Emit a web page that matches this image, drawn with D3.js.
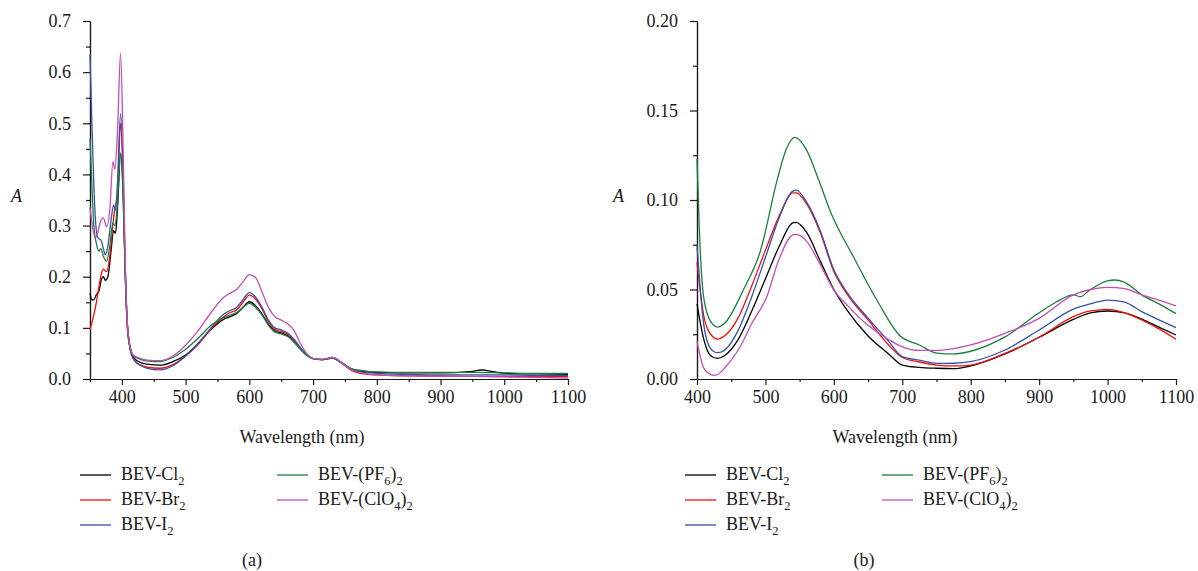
<!DOCTYPE html>
<meta charset="utf-8">
<style>
body { margin: 0; background: #fff; }
svg { font-family: "Liberation Serif", "Times New Roman", serif; }
.axis text { font-family: "Liberation Serif", "Times New Roman", serif; font-size: 18px; fill: #1a1a1a; }
.axis path, .axis line { stroke: #1a1a1a; stroke-width: 1.2; }
.lbl { font-size: 18px; fill: #1a1a1a; }
</style>
<svg width="1198" height="571"></svg>
<script src="https://d3js.org/d3.v7.min.js"></script>
<script>

// series names & colours (same for both panels)
var names = ["BEV-Cl_2", "BEV-Br_2", "BEV-I_2", "BEV-(PF_6)_2", "BEV-(ClO_4)_2"];
var colors = ["#000000", "#f01010", "#3352a8", "#1d7f3c", "#c24db6"];

// ---- panel (a): [wavelength nm, absorbance]
var aCl2 = [[350,0.168],[353,0.155],[356,0.155],[360,0.165],[364,0.172],[368,0.195],[371,0.2],[374,0.193],[378,0.2],[383,0.25],[387,0.29],[390,0.285],[393,0.33],[398,0.44],[402,0.36],[405,0.22],[408,0.12],[412,0.068],[416,0.048],[420,0.04],[430,0.032],[440,0.029],[460,0.027],[480,0.034],[500,0.047],[520,0.07],[540,0.097],[560,0.117],[570,0.122],[580,0.128],[590,0.14],[600,0.151],[610,0.143],[620,0.127],[630,0.107],[640,0.094],[650,0.09],[660,0.085],[670,0.074],[680,0.059],[690,0.047],[700,0.04],[715,0.038],[730,0.042],[745,0.032],[760,0.02],[780,0.015],[800,0.013],[850,0.012],[900,0.012],[950,0.015],[965,0.0176],[980,0.015],[1000,0.011],[1050,0.01],[1100,0.009]];
var aBr2 = [[350,0.096],[355,0.12],[360,0.15],[364,0.18],[368,0.207],[371,0.215],[376,0.21],[381,0.24],[385,0.29],[389,0.334],[393,0.36],[398,0.5],[402,0.38],[405,0.22],[408,0.11],[412,0.065],[416,0.045],[420,0.036],[430,0.027],[440,0.023],[460,0.021],[480,0.028],[500,0.045],[520,0.068],[540,0.098],[560,0.122],[570,0.13],[580,0.135],[590,0.15],[600,0.164],[610,0.156],[620,0.137],[630,0.112],[640,0.097],[650,0.093],[660,0.088],[670,0.076],[680,0.06],[690,0.047],[700,0.04],[715,0.038],[730,0.041],[745,0.031],[760,0.017],[780,0.01],[800,0.008],[850,0.006],[900,0.006],[950,0.005],[1000,0.005],[1050,0.005],[1100,0.005]];
var aI2 = [[350,0.634],[353,0.5],[356,0.38],[360,0.29],[363,0.275],[367,0.272],[371,0.255],[374,0.243],[378,0.26],[383,0.31],[387,0.34],[390,0.33],[393,0.38],[398,0.519],[402,0.4],[405,0.23],[408,0.12],[412,0.065],[416,0.045],[420,0.036],[430,0.026],[440,0.021],[460,0.018],[480,0.026],[500,0.045],[520,0.07],[540,0.1],[560,0.127],[570,0.134],[580,0.14],[590,0.155],[600,0.169],[610,0.16],[620,0.14],[630,0.115],[640,0.1],[650,0.096],[660,0.09],[670,0.078],[680,0.062],[690,0.048],[700,0.04],[715,0.038],[730,0.041],[745,0.031],[760,0.018],[780,0.013],[800,0.011],[850,0.009],[900,0.008],[950,0.008],[1000,0.008],[1050,0.007],[1100,0.007]];
var aPF6 = [[350,0.47],[353,0.38],[356,0.3],[360,0.265],[364,0.25],[367,0.255],[371,0.24],[376,0.23],[381,0.26],[386,0.305],[389,0.3],[393,0.34],[398,0.442],[402,0.36],[405,0.22],[408,0.12],[412,0.07],[416,0.05],[420,0.044],[430,0.038],[440,0.035],[460,0.034],[480,0.042],[500,0.058],[520,0.08],[540,0.105],[560,0.12],[570,0.125],[580,0.13],[590,0.14],[600,0.148],[610,0.14],[620,0.125],[630,0.105],[640,0.092],[650,0.088],[660,0.083],[670,0.072],[680,0.058],[690,0.046],[700,0.04],[715,0.038],[730,0.041],[745,0.032],[760,0.02],[780,0.016],[800,0.014],[850,0.013],[900,0.013],[950,0.013],[1000,0.012],[1050,0.011],[1100,0.011]];
var aClO4 = [[350,0.335],[355,0.29],[358,0.276],[362,0.285],[367,0.31],[371,0.315],[376,0.298],[381,0.33],[386,0.425],[389,0.41],[393,0.48],[398,0.637],[402,0.45],[405,0.25],[408,0.12],[412,0.07],[416,0.05],[420,0.045],[430,0.04],[440,0.037],[460,0.036],[480,0.045],[500,0.066],[520,0.095],[540,0.13],[560,0.16],[570,0.168],[580,0.175],[590,0.19],[600,0.204],[610,0.198],[620,0.17],[630,0.14],[640,0.122],[650,0.115],[660,0.108],[670,0.095],[680,0.07],[690,0.05],[700,0.04],[715,0.039],[730,0.042],[745,0.032],[760,0.018],[780,0.011],[800,0.008],[850,0.006],[900,0.005],[950,0.005],[1000,0.004],[1050,0.003],[1100,0.002]];

// ---- panel (b)
var bCl2 = [[400,0.042],[410,0.022],[420,0.013],[430,0.0115],[440,0.013],[460,0.022],[480,0.038],[500,0.056],[520,0.074],[540,0.0872],[545,0.0875],[560,0.082],[580,0.066],[600,0.05],[620,0.038],[650,0.024],[680,0.014],[700,0.0078],[725,0.0065],[750,0.006],[775,0.0058],[800,0.0073],[850,0.014],[900,0.0233],[950,0.0333],[975,0.037],[1000,0.038],[1025,0.037],[1050,0.0335],[1075,0.029],[1100,0.0246]];
var bBr2 = [[400,0.065],[410,0.035],[420,0.025],[430,0.0223],[440,0.024],[460,0.034],[480,0.052],[500,0.072],[520,0.091],[540,0.104],[545,0.104],[560,0.098],[580,0.082],[600,0.06],[620,0.047],[650,0.033],[680,0.019],[700,0.012],[725,0.0095],[750,0.0078],[775,0.0073],[800,0.0078],[850,0.0143],[900,0.0233],[950,0.0348],[975,0.038],[1000,0.0389],[1025,0.037],[1050,0.033],[1075,0.028],[1100,0.0222]];
var bI2 = [[400,0.075],[410,0.03],[420,0.017],[430,0.0147],[440,0.016],[460,0.027],[480,0.046],[500,0.068],[520,0.09],[540,0.105],[545,0.1055],[560,0.099],[580,0.083],[600,0.061],[620,0.048],[650,0.034],[680,0.021],[700,0.0125],[725,0.0105],[750,0.0087],[775,0.0088],[800,0.0097],[850,0.0162],[900,0.0274],[950,0.039],[975,0.042],[1000,0.0441],[1025,0.043],[1050,0.0376],[1075,0.033],[1100,0.0287]];
var bPF6 = [[400,0.123],[405,0.07],[410,0.045],[420,0.032],[430,0.029],[440,0.031],[468,0.05],[493,0.072],[517,0.111],[530,0.128],[543,0.135],[560,0.128],[578,0.111],[595,0.0935],[629,0.068],[663,0.044],[697,0.024],[725,0.019],[750,0.0145],[775,0.014],[800,0.0155],[850,0.0235],[900,0.037],[925,0.043],[950,0.047],[960,0.046],[975,0.05],[1000,0.0548],[1010,0.0553],[1025,0.054],[1050,0.047],[1075,0.042],[1100,0.0365]];
var bClO4 = [[400,0.021],[410,0.006],[420,0.0025],[425,0.002],[430,0.0025],[440,0.006],[463,0.018],[480,0.031],[502,0.046],[520,0.067],[540,0.0805],[545,0.0808],[560,0.077],[580,0.064],[600,0.0497],[620,0.041],[650,0.03],[680,0.022],[700,0.018],[725,0.016],[750,0.016],[775,0.017],[800,0.019],[850,0.0255],[900,0.0339],[950,0.047],[975,0.05],[1000,0.0512],[1025,0.0505],[1050,0.047],[1075,0.044],[1100,0.0408]];

// ticks
var aYMajor = [0, 0.1, 0.2, 0.3, 0.4, 0.5, 0.6, 0.7];
var aYMinor = [0.05, 0.15, 0.25, 0.35, 0.45, 0.55, 0.65];
var aXMajor = [400, 500, 600, 700, 800, 900, 1000, 1100];
var aXMinor = [350, 450, 550, 650, 750, 850, 950, 1050];
var bYMajor = [0, 0.05, 0.1, 0.15, 0.2];
var bYMinor = [0.025, 0.075, 0.125, 0.175];
var bXMajor = [400, 500, 600, 700, 800, 900, 1000, 1100];
var bXMinor = [450, 550, 650, 750, 850, 950, 1050];

var svg = d3.select("svg");

function richText(sel, s) {
  // "_x" => subscript x
  var parts = s.split(/(_.)/), down = false;
  parts.forEach(function(p) {
    if (!p) return;
    if (p[0] === "_") {
      sel.append("tspan").attr("dy", 5).attr("font-size", 12.5).text(p[1]);
      down = true;
    } else {
      sel.append("tspan").attr("dy", down ? -5 : 0).text(p);
      down = false;
    }
  });
}

function panel(cfg) {
  var x = d3.scaleLinear().domain(cfg.xDomain).range([cfg.left, cfg.right]);
  var y = d3.scaleLinear().domain(cfg.yDomain).range([379, 21]);

  var line = d3.line()
      .curve(d3.curveMonotoneX)
      .x(function(d) { return x(d[0]); })
      .y(function(d) { return y(d[1]); });

  // minor ticks first
  svg.append("g").attr("class", "axis")
      .attr("transform", "translate(0,379)")
      .call(d3.axisBottom(x).tickValues(cfg.xMinor).tickSize(3).tickSizeOuter(0).tickFormat(""));
  svg.append("g").attr("class", "axis")
      .attr("transform", "translate(" + cfg.left + ",0)")
      .call(d3.axisLeft(y).tickValues(cfg.yMinor).tickSize(4).tickSizeOuter(0).tickFormat(""));

  svg.append("g").attr("class", "axis")
      .attr("transform", "translate(0,379)")
      .call(d3.axisBottom(x).tickValues(cfg.xMajor).tickSize(6).tickPadding(5).tickSizeOuter(0)
        .tickFormat(d3.format("d")));
  svg.append("g").attr("class", "axis")
      .attr("transform", "translate(" + cfg.left + ",0)")
      .call(d3.axisLeft(y).tickValues(cfg.yMajor).tickSize(7).tickPadding(12).tickSizeOuter(0)
        .tickFormat(d3.format(cfg.yFmt)));

  cfg.series.forEach(function(s, i) {
    svg.append("path")
        .datum(s)
        .attr("fill", "none")
        .attr("stroke", colors[i])
        .attr("stroke-width", 1.3)
        .attr("stroke-linejoin", "round")
        .attr("d", line);
  });

  svg.append("text").attr("class", "lbl")
      .attr("x", cfg.aX).attr("y", 202)
      .attr("font-style", "italic")
      .text("A");

  svg.append("text").attr("class", "lbl")
      .attr("x", cfg.titleX).attr("y", 443)
      .attr("text-anchor", "middle")
      .text("Wavelength (nm)");

  // legend: two columns
  var cols = [[0, 1, 2], [3, 4]];
  cols.forEach(function(col, c) {
    col.forEach(function(idx, r) {
      var lx = cfg.legX[c], ly = 475 + r * 25;
      svg.append("line")
          .attr("x1", lx).attr("x2", lx + 31)
          .attr("y1", ly).attr("y2", ly)
          .attr("stroke", colors[idx]).attr("stroke-width", 1.3);
      var t = svg.append("text").attr("class", "lbl")
          .attr("x", lx + 41).attr("y", ly + 5);
      richText(t, names[idx]);
    });
  });

  svg.append("text").attr("class", "lbl")
      .attr("x", cfg.capX).attr("y", 566)
      .attr("text-anchor", "middle")
      .attr("font-size", 16)
      .text(cfg.cap);
}

panel({
  xDomain: [350, 1100], yDomain: [0, 0.7], left: 90, right: 568,
  xMajor: aXMajor, xMinor: aXMinor, yMajor: aYMajor, yMinor: aYMinor, yFmt: ".1f",
  series: [aCl2, aBr2, aI2, aPF6, aClO4],
  aX: 11, titleX: 302, legX: [80, 277], capX: 252, cap: "(a)"
});

panel({
  xDomain: [400, 1100], yDomain: [0, 0.2], left: 697, right: 1176,
  xMajor: bXMajor, xMinor: bXMinor, yMajor: bYMajor, yMinor: bYMinor, yFmt: ".2f",
  series: [bCl2, bBr2, bI2, bPF6, bClO4],
  aX: 613, titleX: 895, legX: [685, 882], capX: 864, cap: "(b)"
});

</script>
